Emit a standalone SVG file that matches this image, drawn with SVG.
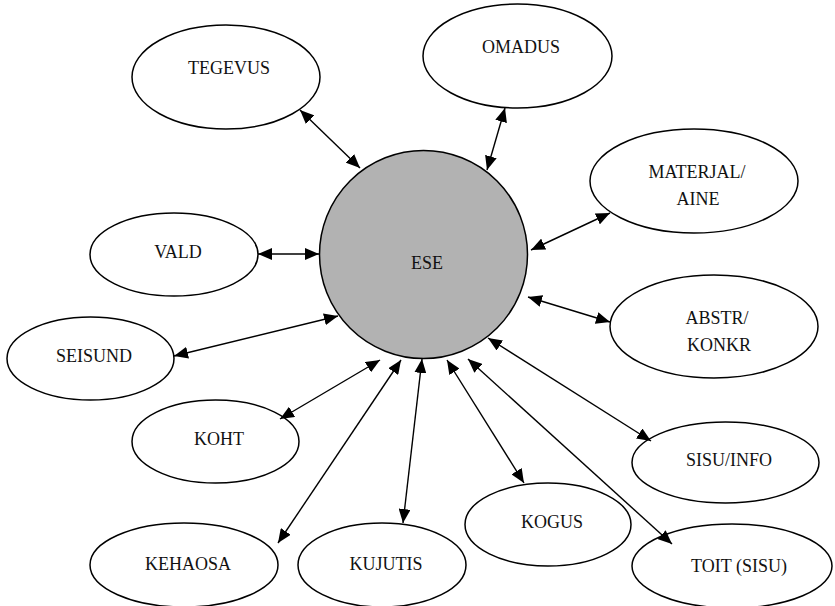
<svg xmlns="http://www.w3.org/2000/svg" width="835" height="606" viewBox="0 0 835 606">
<style>
.n{fill:#fff;stroke:#000;stroke-width:1.5}
.c{fill:#b2b2b2;stroke:#000;stroke-width:1.5}
text{font-family:"Liberation Serif","Times New Roman",serif;font-size:18px;fill:#111;text-anchor:middle}
.e line{stroke:#000;stroke-width:1.4;marker-start:url(#ah);marker-end:url(#ah)}
</style>
<defs>
<marker id="ah" viewBox="0 0 14 12" refX="14" refY="6" markerWidth="14" markerHeight="12" markerUnits="userSpaceOnUse" orient="auto-start-reverse">
<path d="M0,0 L14,6 L0,12 z" fill="#000"/>
</marker>
</defs>
<rect width="835" height="606" fill="#fff"/>
<g id="ese"><circle class="c" cx="423.5" cy="254.5" r="104"/><text x="427" y="269">ESE</text></g>
<g id="tegevus"><ellipse class="n" cx="226" cy="77" rx="94" ry="52"/><text x="229" y="74">TEGEVUS</text></g>
<g id="omadus"><ellipse class="n" cx="517.5" cy="56" rx="94.5" ry="52"/><text x="521" y="53">OMADUS</text></g>
<g id="materjal"><ellipse class="n" cx="694" cy="181" rx="104" ry="52"/><text x="697" y="178">MATERJAL/</text><text x="698" y="205">AINE</text></g>
<g id="vald"><ellipse class="n" cx="174" cy="254.5" rx="84" ry="41.5"/><text x="178" y="258">VALD</text></g>
<g id="abstr"><ellipse class="n" cx="714" cy="326.5" rx="104" ry="51.5"/><text x="717" y="324">ABSTR/</text><text x="719" y="351">KONKR</text></g>
<g id="seisund"><ellipse class="n" cx="90.5" cy="358.5" rx="83.5" ry="41.5"/><text x="94" y="362">SEISUND</text></g>
<g id="koht"><ellipse class="n" cx="215.5" cy="441.5" rx="83.5" ry="41.5"/><text x="219" y="445">KOHT</text></g>
<g id="sisuinfo"><ellipse class="n" cx="725.5" cy="462.5" rx="93.5" ry="40.5"/><text x="729" y="466">SISU/INFO</text></g>
<g id="kogus"><ellipse class="n" cx="548" cy="524.5" rx="83" ry="41.5"/><text x="552" y="528">KOGUS</text></g>
<g id="kehaosa"><ellipse class="n" cx="184" cy="565" rx="94" ry="42"/><text x="188" y="570">KEHAOSA</text></g>
<g id="kujutis"><ellipse class="n" cx="382" cy="565" rx="84" ry="42"/><text x="386" y="570">KUJUTIS</text></g>
<g id="toit"><ellipse class="n" cx="732" cy="566" rx="100" ry="42"/><text x="739" y="572">TOIT (SISU)</text></g>
<g id="connectors" class="e">
<line x1="300" y1="110" x2="360" y2="168"/>
<line x1="505" y1="108" x2="487" y2="170"/>
<line x1="610" y1="213" x2="531" y2="250"/>
<line x1="258" y1="254" x2="319" y2="254"/>
<line x1="610" y1="322" x2="528" y2="297"/>
<line x1="174" y1="356" x2="338" y2="316"/>
<line x1="280" y1="419" x2="380" y2="360"/>
<line x1="651" y1="441" x2="488" y2="338"/>
<line x1="278" y1="543" x2="401" y2="360"/>
<line x1="403" y1="523" x2="422" y2="359"/>
<line x1="524" y1="483" x2="447" y2="360"/>
<line x1="672" y1="544" x2="468" y2="359"/>
</g>
</svg>
